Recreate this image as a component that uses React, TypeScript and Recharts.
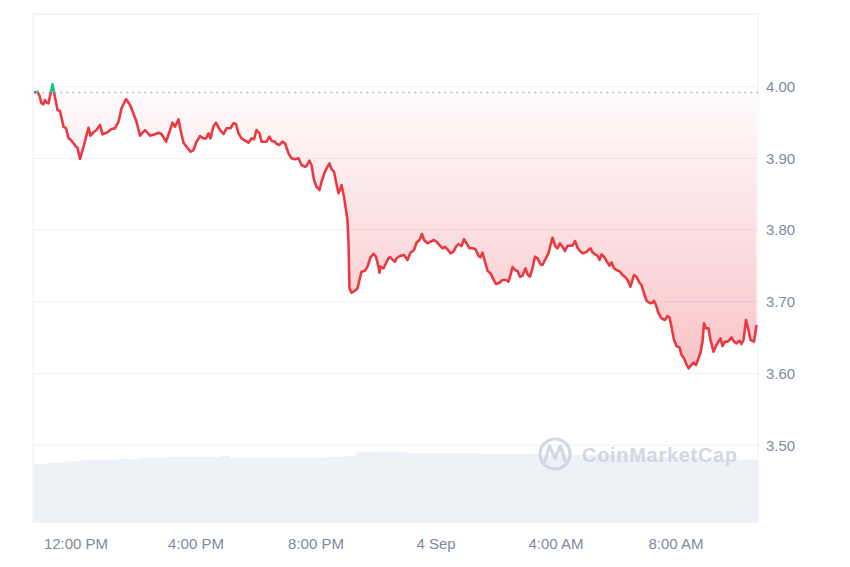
import React from 'react';
import {
  ComposedChart,
  Area,
  XAxis,
  YAxis,
  CartesianGrid,
  ReferenceLine,
  ReferenceArea,
} from 'recharts';

// minutes since 00:00 on 3 Sep
const times = [
  636, 643, 647, 651, 655, 658, 661, 665, 673, 683, 688, 695, 700, 705, 708, 715, 720, 723, 728, 736,
  745, 749, 756, 761, 768, 773, 783, 791, 798, 805, 811, 820, 828, 836, 841, 848, 858, 868, 878, 885,
  891, 900, 907, 913, 918, 925, 929, 935, 941, 949, 955, 961, 968, 975, 980, 985, 989, 995, 1000, 1007,
  1015, 1021, 1029, 1035, 1040, 1045, 1051, 1058, 1065, 1071, 1076, 1081, 1087, 1091, 1101, 1107, 1111, 1118, 1121, 1127,
  1133, 1138, 1145, 1151, 1158, 1165, 1171, 1178, 1181, 1187, 1191, 1196, 1201, 1207, 1211, 1218, 1223, 1227, 1231, 1236,
  1240, 1245, 1248, 1251, 1256, 1260, 1263, 1265, 1267, 1271, 1278, 1283, 1287, 1291, 1298, 1303, 1309, 1315, 1320, 1325,
  1327, 1329, 1335, 1338, 1345, 1349, 1355, 1358, 1361, 1368, 1376, 1383, 1389, 1396, 1401, 1407, 1412, 1416, 1423, 1429,
  1436, 1441, 1447, 1453, 1458, 1463, 1469, 1475, 1480, 1485, 1491, 1496, 1501, 1507, 1513, 1519, 1525, 1529, 1533, 1538,
  1543, 1549, 1555, 1560, 1567, 1573, 1580, 1585, 1589, 1593, 1598, 1603, 1608, 1613, 1619, 1623, 1628, 1633, 1638, 1643,
  1649, 1653, 1658, 1665, 1669, 1673, 1678, 1683, 1688, 1693, 1698, 1703, 1708, 1713, 1718, 1723, 1728, 1733, 1740, 1747,
  1749, 1753, 1758, 1763, 1767, 1771, 1776, 1781, 1787, 1791, 1796, 1801, 1808, 1813, 1820, 1825, 1829, 1836, 1841, 1847,
  1851, 1856, 1861, 1868, 1873, 1876, 1880, 1885, 1891, 1898, 1903, 1907, 1911, 1916, 1921, 1927, 1931, 1936, 1940, 1945,
  1949, 1955, 1960, 1965, 1969, 1973, 1976, 1980, 1985, 1989, 1995, 2000, 2005, 2009, 2013, 2018, 2023, 2027, 2031, 2036,
  2041, 2047, 2051, 2055, 2060, 2065, 2069, 2076, 2081,
];

const prices = [
  3.992, 3.993, 3.9874, 3.9768, 3.9755, 3.9815, 3.9782, 3.9768, 4.0033, 3.9675, 3.9661, 3.9442, 3.942, 3.928, 3.9271, 3.9211, 3.9163, 3.9149, 3.8992, 3.9187,
  3.9428, 3.9317, 3.9372, 3.9396, 3.9466, 3.9336, 3.9364, 3.941, 3.942, 3.9512, 3.9699, 3.9828, 3.9745, 3.9605, 3.9512, 3.9317, 3.9396, 3.9317, 3.9336, 3.9358,
  3.934, 3.9233, 3.9372, 3.9498, 3.9442, 3.9545, 3.9396, 3.9219, 3.9163, 3.9093, 3.9117, 3.9233, 3.9312, 3.928, 3.928, 3.935, 3.928, 3.9452, 3.9498, 3.9406,
  3.934, 3.942, 3.942, 3.949, 3.948, 3.935, 3.928, 3.9247, 3.9219, 3.928, 3.9266, 3.9396, 3.935, 3.9233, 3.9233, 3.9303, 3.9247, 3.9233, 3.9201, 3.9187,
  3.9233, 3.9211, 3.9071, 3.9001, 3.8987, 3.9001, 3.8908, 3.8884, 3.8894, 3.8968, 3.8908, 3.8699, 3.8605, 3.8559, 3.8675, 3.8815, 3.8884, 3.8932, 3.8848, 3.8815,
  3.8675, 3.8513, 3.8559, 3.8629, 3.8466, 3.828, 3.8141, 3.7816, 3.7188, 3.7127, 3.7155, 3.7188, 3.7304, 3.742, 3.7434, 3.749, 3.7621, 3.7667, 3.7629, 3.749,
  3.7406, 3.749, 3.7467, 3.7513, 3.7607, 3.7621, 3.7573, 3.7559, 3.7607, 3.7639, 3.7653, 3.7583, 3.7685, 3.7722, 3.7824, 3.7862, 3.7946, 3.7862, 3.7816, 3.7838,
  3.7862, 3.7838, 3.7792, 3.7746, 3.7768, 3.7732, 3.7676, 3.7699, 3.7768, 3.7806, 3.7778, 3.7872, 3.7816, 3.7746, 3.7746, 3.7732, 3.7639, 3.7621, 3.7685, 3.7559,
  3.7434, 3.7397, 3.7314, 3.7248, 3.7266, 3.7304, 3.7304, 3.728, 3.7374, 3.7485, 3.7443, 3.743, 3.735, 3.7364, 3.7467, 3.7384, 3.735, 3.7467, 3.7629, 3.7607,
  3.7523, 3.7513, 3.7583, 3.7676, 3.7792, 3.7894, 3.7782, 3.7746, 3.7816, 3.7768, 3.7708, 3.7782, 3.7782, 3.7782, 3.7848, 3.7754, 3.7708, 3.7676, 3.769, 3.7736,
  3.7746, 3.769, 3.7662, 3.7643, 3.7583, 3.7662, 3.7629, 3.7569, 3.7503, 3.7551, 3.7467, 3.7443, 3.742, 3.7374, 3.7336, 3.728, 3.7211, 3.7374, 3.735, 3.7266,
  3.7234, 3.7119, 3.7015, 3.6979, 3.6987, 3.7015, 3.6955, 3.684, 3.677, 3.6746, 3.6802, 3.6784, 3.6653, 3.6467, 3.6383, 3.6365, 3.6258, 3.6212, 3.6142, 3.6073,
  3.6105, 3.6151, 3.6119, 3.6212, 3.629, 3.6444, 3.67, 3.663, 3.663, 3.6467, 3.6304, 3.6384, 3.6444, 3.6491, 3.6384, 3.6444, 3.6444, 3.6467, 3.6505, 3.6444,
  3.6421, 3.6458, 3.6411, 3.6467, 3.6746, 3.6607, 3.6467, 3.6444, 3.6676,
];

const volumeTimes = [635, 665, 698, 731, 808, 828, 848, 901, 1008, 1028, 1208, 1221, 1261, 1281, 1368, 1381, 1518, 1528, 1648, 1848, 1968, 2084];
const volumes = [29.0, 29.65, 30.35, 31.0, 31.65, 31.35, 31.85, 32.5, 33.15, 32.0, 32.0, 32.65, 33.0, 35.15, 35.15, 34.35, 34.35, 34.0, 33.5, 32.5, 31.25, 31.35];

const openPrice = 3.992;
const xTicks = [720, 960, 1200, 1440, 1680, 1920];
const xTickLabels = ['12:00 PM', '4:00 PM', '8:00 PM', '4 Sep', '4:00 AM', '8:00 AM'];
const yTicks = [3.5, 3.6, 3.7, 3.8, 3.9, 4.0];

const RED = '#ea3943';
const GREEN = '#16c784';

type Row = { t: number; price?: number; volume?: number };

function buildData(): Row[] {
  const map = new Map<number, Row>();
  times.forEach((t, i) => {
    map.set(t, { ...(map.get(t) || { t }), price: prices[i] });
  });
  volumeTimes.forEach((t, i) => {
    map.set(t, { ...(map.get(t) || { t }), volume: volumes[i] });
  });
  return Array.from(map.values()).sort((a, b) => a.t - b.t);
}

const data = buildData();
const maxP = Math.max(...prices, openPrice);
const minP = Math.min(...prices, openPrice);
const splitOffset = (maxP - openPrice) / (maxP - minP);

const tickStyle = { fill: '#808a9d', fontSize: 15, fontFamily: '"Liberation Sans", Arial, sans-serif' };

export default function App() {
  return (
    <div style={{ position: 'absolute', left: 0, top: 0, width: 850, height: 567, background: '#fff' }}>
      <ComposedChart
        width={850}
        height={567}
        data={data}
        margin={{ top: 14, right: 12, bottom: 5, left: 33 }}
      >
        <defs>
          <linearGradient id="strokeSplit" x1="0" y1="0" x2="0" y2="1">
            <stop offset={splitOffset} stopColor={GREEN} />
            <stop offset={splitOffset} stopColor={RED} />
          </linearGradient>
          <linearGradient id="fillSplit" x1="0" y1="0" x2="0" y2="1">
            <stop offset={0} stopColor={GREEN} stopOpacity={0.12} />
            <stop offset={splitOffset} stopColor={GREEN} stopOpacity={0.02} />
            <stop offset={splitOffset} stopColor={RED} stopOpacity={0.02} />
            <stop offset={1} stopColor={RED} stopOpacity={0.3} />
          </linearGradient>
        </defs>
        <XAxis
          type="number"
          dataKey="t"
          domain={[634, 2084]}
          ticks={xTicks}
          interval={0}
          tickFormatter={(v: number) => xTickLabels[xTicks.indexOf(v)] ?? ''}
          axisLine={false}
          tickLine={false}
          tickMargin={10}
          height={40}
          tick={tickStyle}
          allowDataOverflow
        />
        <YAxis
          yAxisId="price"
          orientation="right"
          domain={[3.3929, 4.1014]}
          ticks={yTicks}
          interval={0}
          tickFormatter={(v: number) => v.toFixed(2)}
          axisLine={false}
          tickLine={false}
          width={80}
          tick={tickStyle}
          allowDataOverflow
        />
        <YAxis yAxisId="vol" hide domain={[0, 254]} />
        <Area
          yAxisId="vol"
          type="stepAfter"
          dataKey="volume"
          stroke="none"
          fill="#eef1f5"
          fillOpacity={1}
          connectNulls
          isAnimationActive={false}
          dot={false}
          activeDot={false}
        />
        <CartesianGrid yAxisId="price" vertical={false} stroke="#eef0f3" />
        <ReferenceArea
          yAxisId="price"
          x1={634}
          x2={2084}
          y1={3.3929}
          y2={4.1014}
          fill="none"
          stroke="#eef0f3"
          strokeWidth={1}
        />
        <ReferenceLine
          yAxisId="price"
          y={openPrice}
          stroke="#a7afbf"
          strokeWidth={1.5}
          strokeDasharray="1.5 4.5"
        />
        <Area
          yAxisId="price"
          type="linear"
          dataKey="price"
          baseValue={openPrice}
          stroke="url(#strokeSplit)"
          strokeWidth={2.6}
          strokeLinejoin="round"
          fill="url(#fillSplit)"
          fillOpacity={1}
          connectNulls
          isAnimationActive={false}
          dot={false}
          activeDot={false}
        />
      </ComposedChart>
      <svg
        width={850}
        height={567}
        style={{ position: 'absolute', left: 0, top: 0, pointerEvents: 'none' }}
      >
        <g opacity={0.85}>
          <circle cx={555} cy={454} r={15} fill="none" stroke="#cbd2e0" strokeWidth={3.2} />
          <path
            d="M545 461 L549.5 446 L555 458 L560.5 446 L565 461"
            fill="none"
            stroke="#cbd2e0"
            strokeWidth={3.2}
            strokeLinejoin="round"
            strokeLinecap="round"
          />
          <text
            x={582}
            y={462}
            fill="#cbd2e0"
            fontSize={20}
            fontWeight={700}
            letterSpacing={0.7}
            fontFamily='"Liberation Sans", Arial, sans-serif'
          >
            CoinMarketCap
          </text>
        </g>
      </svg>
    </div>
  );
}
